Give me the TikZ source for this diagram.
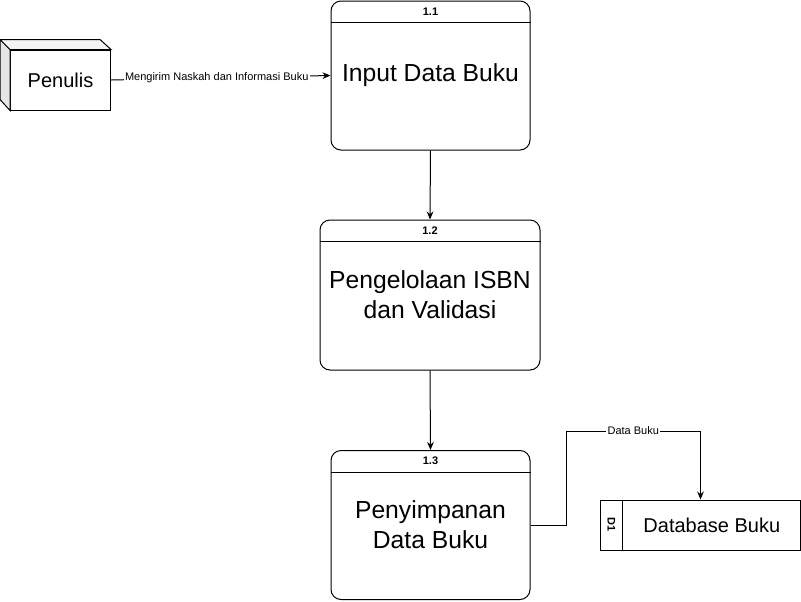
\documentclass[tikz,border=0pt]{standalone}
\usepackage{fontspec}
\setmainfont{Liberation Sans}
\usetikzlibrary{positioning,arrows.meta}
\definecolor{Sisi}{RGB}{230,230,230}
\definecolor{Atas}{RGB}{245,245,245}

\tikzset{
  proses/.style={draw, line width=0.75pt, rounded corners=7.5pt, minimum width=149.25pt,
    minimum height=111.75pt, align=center, font=\fontsize{18.5}{22.5}\selectfont},
  nomor/.style={font=\bfseries\fontsize{8.25}{10}\selectfont, inner sep=0pt},
  entitas/.style={draw, line width=0.75pt, minimum width=75pt, minimum height=45pt,
    font=\fontsize{15}{18}\selectfont},
  simpan/.style={draw, line width=0.75pt, minimum width=150pt, minimum height=37.5pt,
    font=\fontsize{15}{18}\selectfont},
  ket/.style={fill=white, inner sep=1pt, font=\fontsize{8.25}{10}\selectfont},
  alur/.style={line width=0.75pt, -{Stealth[length=6pt,width=5pt]}}
}

\begin{document}
\begin{tikzpicture}[x=0.75pt,y=-0.75pt]
  \useasboundingbox (0,0) rectangle (801,601);

  %# ENTITAS LUAR
  \node[entitas] (penulis) at (60.5,80) {Penulis};
  \filldraw[fill=Sisi, line width=0.75pt] (penulis.north west) -- ++(-7.5pt,7.5pt)
    -- ++(0,-45pt) -- (penulis.south west) -- cycle;
  \filldraw[fill=Atas, line width=0.75pt] (penulis.north west) -- ++(-7.5pt,7.5pt) -- ++(75pt,0)
    -- (penulis.north east) -- cycle;

  %# PROSES 1.1
  \node[proses] (p11) at (430.5,75.5) {Input Data Buku};
  \draw[line width=0.75pt] ([yshift=-16.5pt]p11.north west) -- ([yshift=-16.5pt]p11.north east);
  \node[nomor] (n11) at ([yshift=-8.25pt]p11.north) {1.1};

  %# PROSES 1.2
  \node[proses, minimum width=165pt, minimum height=112.5pt] (p12) at (430,295)
    {Pengelolaan ISBN\\ dan Validasi};
  \draw[line width=0.75pt] ([yshift=-16.5pt]p12.north west) -- ([yshift=-16.5pt]p12.north east);
  \node[nomor] (n12) at ([yshift=-8.25pt]p12.north) {1.2};

  %# PROSES 1.3
  \node[proses] (p13) at (430.5,525) {Penyimpanan\\Data Buku};
  \draw[line width=0.75pt] ([yshift=-16.5pt]p13.north west) -- ([yshift=-16.5pt]p13.north east);
  \node[nomor] (n13) at ([yshift=-8.25pt]p13.north) {1.3};

  %# DATA STORE
  \node[simpan] (db) at (700.5,525) {\hspace{17pt}Database Buku};
  \draw[line width=0.75pt] ([xshift=17pt]db.north west) -- ([xshift=17pt]db.south west);
  \node[nomor, rotate=-90] (d1) at ([xshift=8.5pt]db.west) {D1};

  %# ALUR DATA
  \draw[alur] (penulis.east) -- node[ket, xshift=-3pt] {Mengirim Naskah dan Informasi Buku} (p11.west);
  \draw[alur] (p11.south) -- (p12.north);
  \draw[alur] (p12.south) -- (p13.north);
  \coordinate (belok) at (566,431);
  \draw[alur] (p13.east) -| (belok) -- node[ket] {Data Buku} (db.north |- belok) -- (db.north);
\end{tikzpicture}
\end{document}
